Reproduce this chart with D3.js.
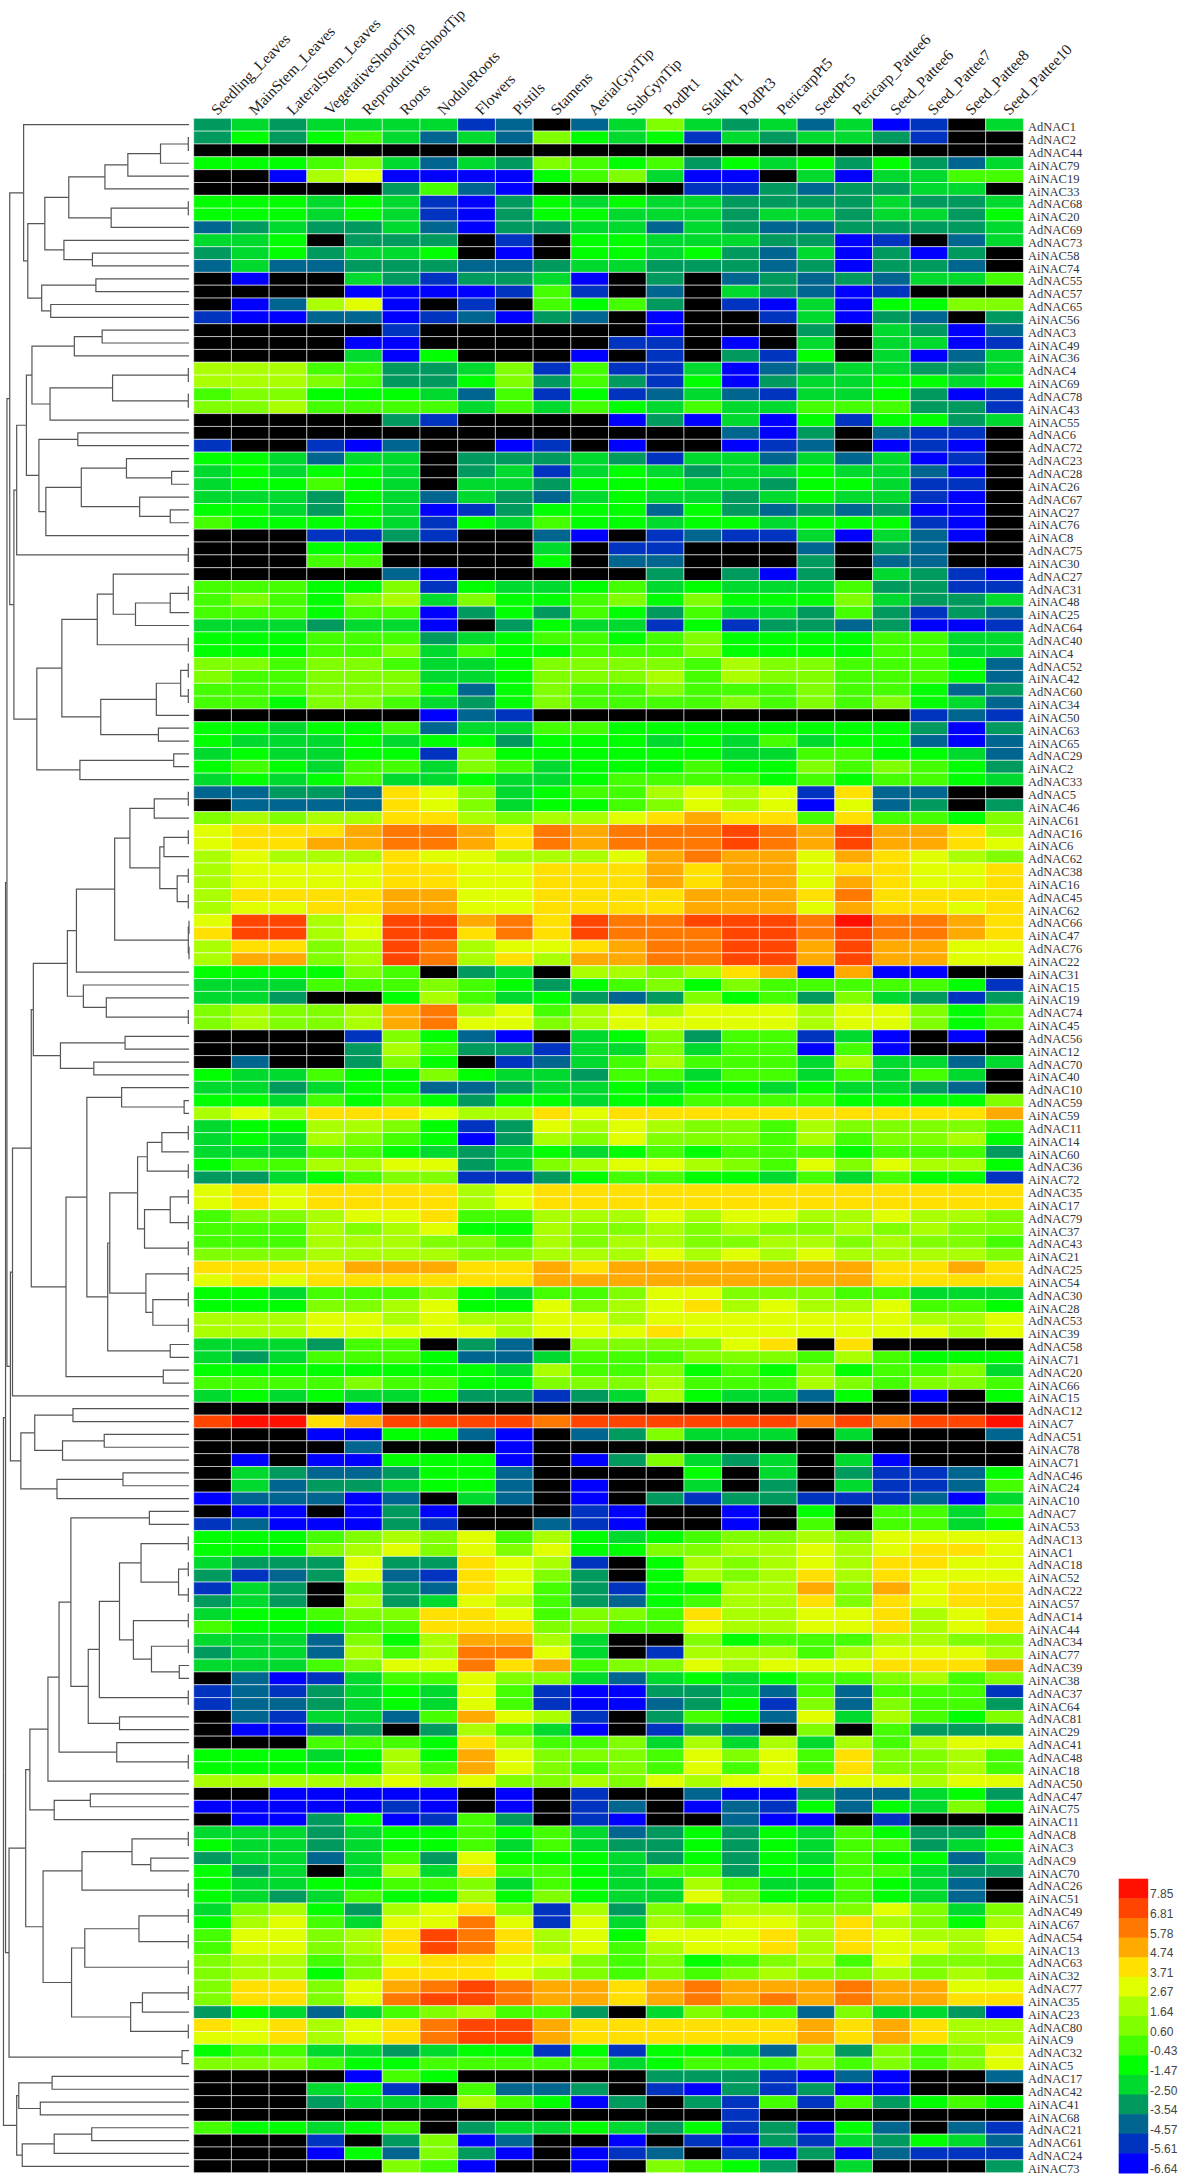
<!DOCTYPE html>
<html>
<head>
<meta charset="utf-8">
<script src="https://d3js.org/d3.v7.min.js"></script>
<style>
  html, body { margin: 0; background: #fff; }
  svg { display: block; }
</style>
</head>
<body>
<div id="chart"></div>
<script>
//----------------------------------
// Data
//----------------------------------
const tissues = ["Seedling_Leaves", "MainStem_Leaves", "LateralStem_Leaves", "VegetativeShootTip",
  "ReproductiveShootTip", "Roots", "NoduleRoots", "Flowers", "Pistils", "Stamens", "AerialGynTip",
  "SubGynTip", "PodPt1", "StalkPt1", "PodPt3", "PericarpPt5", "SeedPt5", "Pericarp_Pattee6",
  "Seed_Pattee6", "Seed_Pattee7", "Seed_Pattee8", "Seed_Pattee10"];

const genes = ["AdNAC1", "AdNAC2", "AdNAC44", "AiNAC79", "AiNAC19", "AiNAC33", "AdNAC68", "AiNAC20", "AdNAC69", "AdNAC73",
  "AiNAC58", "AiNAC74", "AdNAC55", "AdNAC57", "AdNAC65", "AiNAC56", "AdNAC3", "AiNAC49", "AiNAC36", "AdNAC4",
  "AiNAC69", "AdNAC78", "AiNAC43", "AiNAC55", "AdNAC6", "AdNAC72", "AdNAC23", "AdNAC28", "AiNAC26", "AdNAC67",
  "AiNAC27", "AiNAC76", "AiNAC8", "AdNAC75", "AiNAC30", "AdNAC27", "AdNAC31", "AiNAC48", "AiNAC25", "AdNAC64",
  "AdNAC40", "AiNAC4", "AdNAC52", "AiNAC42", "AdNAC60", "AiNAC34", "AiNAC50", "AiNAC63", "AiNAC65", "AdNAC29",
  "AiNAC2", "AdNAC33", "AdNAC5", "AiNAC46", "AiNAC61", "AdNAC16", "AiNAC6", "AdNAC62", "AdNAC38", "AiNAC16",
  "AdNAC45", "AiNAC62", "AdNAC66", "AiNAC47", "AdNAC76", "AiNAC22", "AiNAC31", "AiNAC15", "AiNAC19", "AdNAC74",
  "AiNAC45", "AdNAC56", "AiNAC12", "AdNAC70", "AiNAC40", "AdNAC10", "AdNAC59", "AiNAC59", "AdNAC11", "AiNAC14",
  "AiNAC60", "AdNAC36", "AiNAC72", "AdNAC35", "AiNAC17", "AdNAC79", "AiNAC37", "AdNAC43", "AiNAC21", "AdNAC25",
  "AiNAC54", "AdNAC30", "AiNAC28", "AdNAC53", "AiNAC39", "AdNAC58", "AiNAC71", "AdNAC20", "AiNAC66", "AiNAC15",
  "AdNAC12", "AiNAC7", "AdNAC51", "AiNAC78", "AiNAC71", "AdNAC46", "AiNAC24", "AiNAC10", "AdNAC7", "AiNAC53",
  "AdNAC13", "AiNAC1", "AdNAC18", "AiNAC52", "AdNAC22", "AiNAC57", "AdNAC14", "AiNAC44", "AdNAC34", "AiNAC77",
  "AdNAC39", "AiNAC38", "AdNAC37", "AiNAC64", "AdNAC81", "AiNAC29", "AdNAC41", "AdNAC48", "AiNAC18", "AdNAC50",
  "AdNAC47", "AiNAC75", "AiNAC11", "AdNAC8", "AiNAC3", "AdNAC9", "AiNAC70", "AdNAC26", "AiNAC51", "AdNAC49",
  "AiNAC67", "AdNAC54", "AiNAC13", "AdNAC63", "AiNAC32", "AdNAC77", "AiNAC35", "AiNAC23", "AdNAC80", "AiNAC9",
  "AdNAC32", "AiNAC5", "AdNAC17", "AdNAC42", "AiNAC41", "AiNAC68", "AdNAC21", "AdNAC61", "AdNAC24", "AiNAC73"];

// Legend bands, low to high
const legendValues = [-6.64, -5.61, -4.57, -3.54, -2.50, -1.47, -0.43, 0.60, 1.64, 2.67, 3.71, 4.74, 5.78, 6.81, 7.85];
const legendColors = ["#0000ff", "#0033bf", "#00668f", "#009a5f", "#00d92e", "#00ff00", "#44ff00", "#80ff00",
  "#aaff00", "#e0ff00", "#ffe000", "#ffaa00", "#ff7800", "#ff4500", "#ff1000"];

// One string per gene. a = first legend band ... o = last band, "." = no data (black)
const expression = [
  "dedeeeebc.cehedeceab.e", "dfdfgecechfefbedeedb..", "......................", "fffghecedhgfgdfefdfdce",
  "..aijaaaafgheaa.eaeegg", ".....dgca....bbdcddee.", "fffefebadfefeeddddedde", "fffefebadffeeedeedeedf",
  "cdeddecaddeecedccdddde", "eef.ddd.b.ffeeeddab.ce", "defdeef.a.ffefdceadad.", "ceccdddccdeedddcdaddc.",
  ".a..edbddea.d.cdcdceeg", "....aaaabgb.c.edcab...", ".acija.b.gfgd.baeaffhh", "baaccabcadc.a..beadc.d",
  ".....b......a...d.edac", "....aa.....bb.a.e.eeab", "....eaf...a.b.dbf.eace", "iiiggddehbgbbeacdeedde",
  "iiihgddfhdgdbfadeeffef", "ghhfffecgbfbcecbeefdab", "hhiggggegegfegeegggddb", ".....db....adaeafbffde",
  "..............cad.cbb.", "b..bac..ab.a..abc.aba.", "ffecee.dddedbeececeab.", "efeffe.debefedeefeeca.",
  "effgfe.eedfffeedffebb.", "eeedfecedcefeedefeeba.", "ffedfeabdfffcfdcdcdaa.", "gffffebfegffeffefffba.",
  "...bbdb..ca.bcbbeaeca.", "...ff....e.bb...c.dc..", "...gg....f.cc...d.cc..", ".....ca.....d.dad.edba",
  "gggffhbfeefgefeeegddbb", "ghgfhiehffghfhfffhedde", "gggfggadfdgfdgeedgdbdc", "eeedeea.dfeebfbddcdaab",
  "fffgggdefggfghffffggee", "fffgghegffggghffffggee", "hhghhgeefhhhhgihhgggfc", "hgghhheefhhhigihhgggfc",
  "ggghhhfcfhgghggghggfcd", "ggfhhgedfhgggghghghfec", "......acb..........bcb", "ffeffgceeggffffffffdad",
  "feeefeffdfffefegeffcac", "efeeffbhffffffeeggffec", "fgfeggehgefffgffhghgfd", "efefgeefeefggggfgfggfe",
  "ccddckjhefggijijbkcc..", ".cccckjheffghjijajcd.d", "hihiikkihiijklkkgkggfh", "jkkklmmlkmlmmmnmlnllki",
  "jkkllmmlkmlmmmnmlnllkj", "ijiiikjjiiijlmlljlkjih", "ijjjjkkjjkkklklljkkjjk", "ijjjjkkjjkkklklljlkjjk",
  "ikkkklljjkkkklllkmkkkk", "ijjkklljjkkkkllljlkkjk", "jnnijnnlmknmmnnnmommlk", "knnijnnkmknmmmnnmnmmlk",
  "ikkhinmijjklmmnnlnlljj", "illhinmikillmmnnlnlljj", "ffffhg.de.iihiklalaa..", "eeeggghgfdfghfhgggggfb",
  "eed..figefdcdhfgdhedbd", "hihhilmijgijijjjijjhfg", "hihhilmjjhijjjjjijjhfg", "....bhfca.efhdggbea.a.",
  "....digddbeeheggaga...", ".c..dhf.bcegigggeieece", "feegffhfeedggeggegege.", "eedeffccdeefeffefeedc.",
  "ffegfgfdffeffggggffffh", "ijikkkjiikjkkkkkkkkkkl", "effiihfbdjijihhgihhhhg", "efeihgfadihjhhhgighhif",
  "eeeggfedefefgfgggfgggd", "fggiijjdehijjihgjhjiif", "ddefghhbbdfggffegegffb", "jkjkkkkijkkkkkkkkkkkkk",
  "jkjkkkkijkkkkkkkkkkkkk", "ghhijjkggiiijijjiijiih", "gggihijffihhihihhihihh", "gggiiihhgihiihhiihihhg",
  "hhhiiiihhiiijijijiiiih", "kkkklllkklklllllllkklk", "jkjkkkkkklllllllllkkkk", "ffeggghfegghjjhhhggeee",
  "fffhhijffjhijkijiijggf", "iiijjijiijjijjjjjjjiij", "iiijjjjjijjjkjjjjjjjij", "eeedgg.dc.hhhhjk.k....",
  "edegggfcceggghhhgigfff", "ffffffffeigghfgfhfgghe", "gggghggffhhhigggihghhg", "efefeefddbdeifeecf.a.f",
  "....a.................", "nooklnnnnmnnnnnnmnmnno", "...aaffca.cdheee.e...c", "....c...a.............",
  ".a.aafffa.adhede.ea...", ".edccdffc....f.e.dbbcf", ".ecddeffc.a..e.d.ebbcg", "acccac.ec.a.dbddbbbcae",
  ".aa.ada...ba..a.f.ggeg", "bcaaadb..cba..a.g.ggef", "fffghihjgifefghhihjjjj", "fffhijhjhjffhhiijijkkj",
  "edddjddkjib.fihijikkjj", "dbcdjcbkjhd.fihikikjjj", "bed.hdckjgdbffiilhljkk", "ded.idejigdcfgiikhkjkk",
  "effghhkkjghhgkiijjkijk", "gfffggkkkhhggjiijjkijk", "eeechfillie..hfgggiihh", "deecigimmje.biiigijjji",
  "eeeghjjmklghhjijjjkkkl", ".cabeggjhhecefefgghigh", "bcbdefejgbaaddecgcgggb", "bccdefejgbaacdfbhchggd",
  ".cbeecgljib.dgfcjeigfh", ".aacd.digea.bdc.h.gddd", "...gggfkiggheieieigijj", "fffefifljhhhgjhjgkhhig",
  "fffffigljhghgjgjgkhhig", "iiiiijijhhihjijjkjjijj", "..aaaaa.a.b..caadccefd", "aaaaaba.a.bc.acbfcfehf",
  ".aadfabgd.ba..caa.b...", "eeedeffgfgecdfdfegfddf", "feedeffgegeddfdfeggdef", "deecegdjfffedfdfegffce",
  "fde.eiekggfeggdffggedd", "feeffgghegfeeigeegfec.", "fedegffifhfeejhffgfec.", "ehifdijkhbidhgiihhjheh",
  "fijgejjmjbjeihjjikihfi", "gjjhiknmkijfjjjkikjiij", "gjjhiknmkijgijjkikjjij", "hiighjkkjjhghfghigjhhh",
  "hiifhkkkjihghghihhihih", "hkkhjlmnmllklmlllmlljj", "hkkhjmnnmllklmlmlmllkk", "dfeceghiggd.ehggcheeda",
  "kjkijkmnnlkkkkkklklkii", "jjkijkmnnlkkkkkklklkii", "fggeedeffbfbffechdhghj", "hhhgffgggggefggghghghj",
  "....agf.....dddbaca..c", "...efb.gccd.badbdaa...", "...deeeigfad.dbgbgdfgf", "..............b.......",
  "gffefg.deefedfbdafc.cb", "...b.dhac..a.badbedfec", "...afchda.abc.badacbbb", ".....hga..a.hgfd.e...d"
];

// Dendrogram as [merge position, upper child, lower child]; 0 is a leaf, taken in gene order.
const leafPos = 272;
const p = [271, 0, 0]; // near identical pair
const clusterTop = [34, 0, [40,
  [64.5, [99, [151, [184, [231, p, 0], 0], 0], [160, p, 0]], [92, 0, [133, 0, 0]]],
  [60, [138, 0, 0], [73, 0, 0]]]];
const clusterSecond = [24, [38,
  [46, [107, [147, 0, 0], 0], [72, [162, p, p], 0]],
  [56, [112, 0, 0], [66, [117, [182, 0, [247, 0, 0]], [201, 0, [245, 0, 0]]], 0]]], p];
const clusterThird = [53, [89,
  [140, [163, 0, [195, [245, p, 0], 0]], p],
  [145, [225, [260, p, p], 0], [228, 0, 0]]],
  [115, [250, 0, 0], 0]];
const clusterHigh = [48, [97,
  [110, [165, [187, [222, p, 0], [230, [236, p, 0], [255, p, p]]], [271, [272, 0, 0], [272, 0, 0]]], 0],
  [120, 0, [153, 0, p]]],
  [87, [180, 0, 0], [135, 0, 0]]];
const clusterMid = [95, [125,
  [175, 0, [265, 0, 0]],
  [155, [158,
    [198, [212, [233, p, 0], p], [208, [245, p, p], p]],
    [210, p, [220, p, p]]],
    [245, 0, 0]]],
  [235, 0, 0]];
const clusterDark = [30, [50, [105, 0, 0], [90, [150, 0, 0], 0]], [82, [177, 0, 0], 0]];
const clusterLate = [85, [102, [215, 0, 0],
  [127, [143, [172, [203, p, [257, p, p]], [192, p, [218, p, [258, 0, 0]]]], p], [172, 0, 0]]],
  [168, 0, p]];
const clusterEnd = [13, [37,
  [43, [69, clusterLate, 0], [78, [130, 0, 0], 0]],
  [62, [118, [190, p, [217, 0, 0]], p],
    [103, [122, [200, p, p], p], [188, [205, p, 0], p]]]],
  [262, 0, 0]];
const clusterBottom = [24, [27, [75, 0, 0], [58, 0, 0]], [32, [78, [132, 0, 0], 0], 0]];
const tree = [5, [8,
  [10, [14, clusterTop, [20, clusterSecond, clusterThird]],
    [15, [18, [45, clusterHigh, clusterMid], 0], clusterDark]],
  clusterEnd], clusterBottom];

//----------------------------------
// SVG Section
//----------------------------------
const width = 1181, height = 2179;
const svg = d3.select("#chart").append("svg")
    .attr("width", width)
    .attr("height", height)
    .style("background", "#fff");

const xScale = d3.scaleBand().domain(d3.range(tissues.length)).range([193.7, 1023.4]);
const yScale = d3.scaleBand().domain(d3.range(genes.length)).range([118.3, 2172.7]);
const color = d3.scaleOrdinal(legendValues, legendColors);

// Heatmap cells
const cells = expression.flatMap((row, r) => Array.from(row, (ch, c) => ({
  r, c, value: ch === "." ? null : legendValues[ch.charCodeAt(0) - 97]
})));

svg.append("g").selectAll("rect")
  .data(cells)
  .join("rect")
    .attr("x", d => xScale(d.c))
    .attr("y", d => yScale(d.r))
    .attr("width", xScale.bandwidth())
    .attr("height", yScale.bandwidth())
    .attr("fill", d => d.value === null ? "#000" : color(d.value))
    .attr("stroke", "rgba(255,255,255,0.55)")
    .attr("stroke-width", 1);

// Column labels
svg.append("g").selectAll("text")
  .data(tissues)
  .join("text")
    .attr("transform", (d, i) => `translate(${xScale(i) + xScale.bandwidth() / 2 + 5},116) rotate(-46)`)
    .style("font-family", "'Liberation Serif', serif")
    .style("font-size", "15.5px")
    .attr("fill", "#222")
    .text(d => d);

// Row labels
svg.append("g").selectAll("text")
  .data(genes)
  .join("text")
    .attr("x", 1028)
    .attr("y", (d, i) => yScale(i) + yScale.bandwidth() / 2 + 6.6)
    .style("font-family", "'Liberation Serif', serif")
    .style("font-size", "12.5px")
    .attr("fill", "#333")
    .text(d => d);

// Dendrogram
const treeX = d3.scaleLinear().domain([0, leafPos]).range([0, 189]);
const root = d3.hierarchy(tree, d => Array.isArray(d) ? d.slice(1) : null);
let leafIndex = 0;
root.eachAfter(n => {
  if (n.children) {
    n.py = d3.mean(n.children, k => k.py);
    n.px = treeX(n.data[0]);
  } else {
    n.py = yScale(leafIndex++) + yScale.bandwidth() / 2;
    n.px = treeX(leafPos);
  }
});

svg.append("g").selectAll("path")
  .data(root.links())
  .join("path")
    .attr("fill", "none")
    .attr("stroke", "#555")
    .attr("stroke-width", 1.2)
    .attr("d", l => `M${l.source.px},${l.source.py}V${l.target.py}H${l.target.px}`);

// Legend
const legendOrder = legendValues.slice().reverse();
const legendY = d3.scaleBand().domain(legendOrder).range([1878.7, 2173]);

svg.append("g").selectAll("rect")
  .data(legendOrder)
  .join("rect")
    .attr("x", 1118.7)
    .attr("y", d => legendY(d))
    .attr("width", 29.5)
    .attr("height", legendY.bandwidth() + 0.5)
    .attr("fill", d => color(d));

svg.append("g").selectAll("text")
  .data(legendOrder)
  .join("text")
    .attr("x", 1150)
    .attr("y", d => legendY(d) + legendY.bandwidth())
    .style("font-family", "'Liberation Sans', sans-serif")
    .style("font-size", "12px")
    .attr("fill", "#444")
    .text(d => d.toFixed(2));
</script>
</body>
</html>
